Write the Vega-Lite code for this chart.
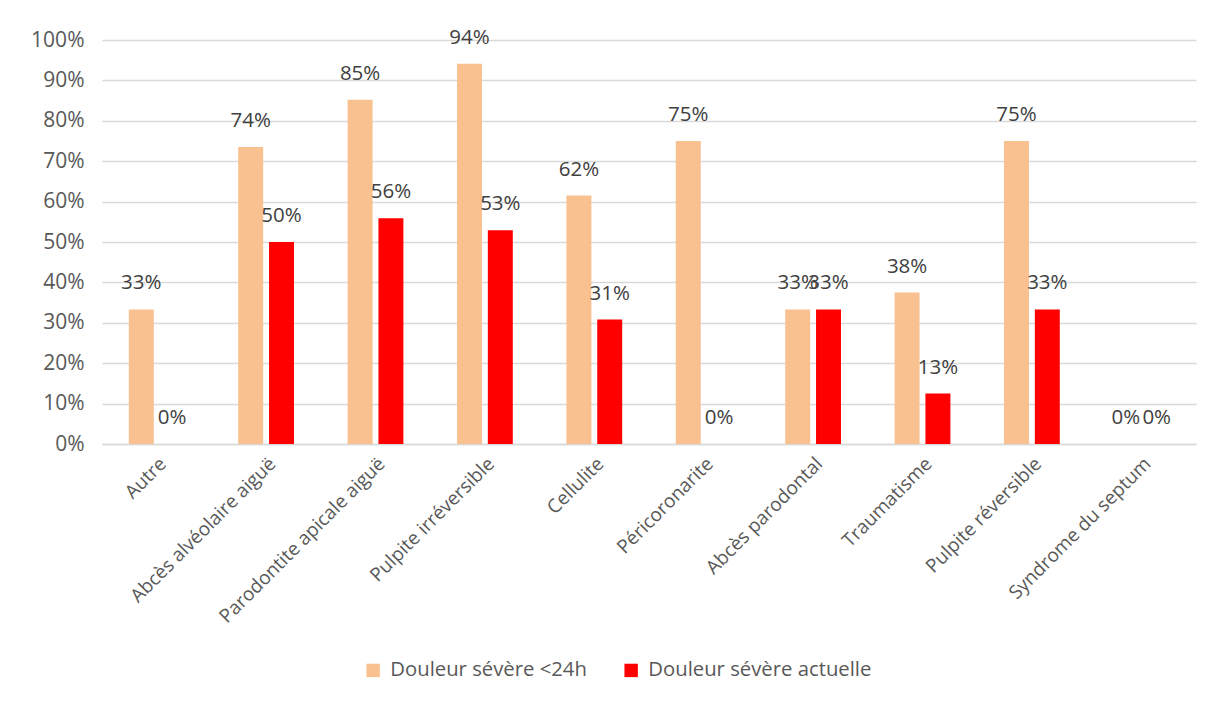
{
  "$schema": "https://vega.github.io/schema/vega-lite/v6.json",
  "autosize": {"type": "none"},
  "width": 1094,
  "height": 404,
  "padding": {"left": 102, "top": 40, "right": 19, "bottom": 262},
  "background": "white",
  "config": {
    "font": "Open Sans",
    "view": {"stroke": null}
  },
  "data": {
    "values": [
      {"cat": "Autre", "serie": "Douleur sévère <24h", "v": 0.333},
      {"cat": "Autre", "serie": "Douleur sévère actuelle", "v": 0},
      {"cat": "Abcès alvéolaire aiguë", "serie": "Douleur sévère <24h", "v": 0.735},
      {"cat": "Abcès alvéolaire aiguë", "serie": "Douleur sévère actuelle", "v": 0.5},
      {"cat": "Parodontite apicale aiguë", "serie": "Douleur sévère <24h", "v": 0.852},
      {"cat": "Parodontite apicale aiguë", "serie": "Douleur sévère actuelle", "v": 0.559},
      {"cat": "Pulpite irréversible", "serie": "Douleur sévère <24h", "v": 0.941},
      {"cat": "Pulpite irréversible", "serie": "Douleur sévère actuelle", "v": 0.529},
      {"cat": "Cellulite", "serie": "Douleur sévère <24h", "v": 0.615},
      {"cat": "Cellulite", "serie": "Douleur sévère actuelle", "v": 0.308},
      {"cat": "Péricoronarite", "serie": "Douleur sévère <24h", "v": 0.75},
      {"cat": "Péricoronarite", "serie": "Douleur sévère actuelle", "v": 0},
      {"cat": "Abcès parodontal", "serie": "Douleur sévère <24h", "v": 0.333},
      {"cat": "Abcès parodontal", "serie": "Douleur sévère actuelle", "v": 0.333},
      {"cat": "Traumatisme", "serie": "Douleur sévère <24h", "v": 0.375},
      {"cat": "Traumatisme", "serie": "Douleur sévère actuelle", "v": 0.125},
      {"cat": "Pulpite réversible", "serie": "Douleur sévère <24h", "v": 0.75},
      {"cat": "Pulpite réversible", "serie": "Douleur sévère actuelle", "v": 0.333},
      {"cat": "Syndrome du septum", "serie": "Douleur sévère <24h", "v": 0},
      {"cat": "Syndrome du septum", "serie": "Douleur sévère actuelle", "v": 0}
    ]
  },
  "encoding": {
    "x": {
      "field": "cat", "type": "nominal", "sort": null, "title": null,
      "scale": {"paddingInner": 0.49, "paddingOuter": 0.245},
      "axis": {
        "labelAngle": -45, "labelFontSize": 19, "labelColor": "#595959",
        "labelPadding": 10, "ticks": false, "domainColor": "#d9d9d9",
        "domainWidth": 1.5, "labelLimit": 400
      }
    },
    "xOffset": {
      "field": "serie", "type": "nominal",
      "scale": {"paddingInner": 0.19, "paddingOuter": 0}
    },
    "y": {
      "field": "v", "type": "quantitative", "title": null,
      "scale": {"domain": [0, 1], "nice": false},
      "axis": {
        "format": ".0%", "values": [0, 0.1, 0.2, 0.3, 0.4, 0.5, 0.6, 0.7, 0.8, 0.9, 1],
        "grid": true, "gridColor": "#d9d9d9", "gridWidth": 1.3,
        "domain": false, "ticks": false, "labelFontSize": 21,
        "labelColor": "#595959", "labelPadding": 18
      }
    }
  },
  "layer": [
    {
      "mark": {"type": "bar"},
      "encoding": {
        "color": {
          "field": "serie", "type": "nominal",
          "scale": {"domain": ["Douleur sévère <24h", "Douleur sévère actuelle"], "range": ["#F8C18F", "#FF0000"]},
          "legend": {
            "title": null, "orient": "none", "legendX": 261, "legendY": 620,
            "direction": "horizontal", "symbolType": "square", "symbolSize": 180,
            "symbolStrokeWidth": 0, "labelFontSize": 20.3, "labelColor": "#595959",
            "columnPadding": 34, "labelLimit": 400, "labelOffset": 7
          }
        }
      }
    },
    {
      "mark": {"type": "text", "fontSize": 20.5, "color": "#404040", "baseline": "middle", "dy": -26},
      "encoding": {
        "text": {"field": "v", "type": "quantitative", "format": ".0%"}
      }
    }
  ]
}
